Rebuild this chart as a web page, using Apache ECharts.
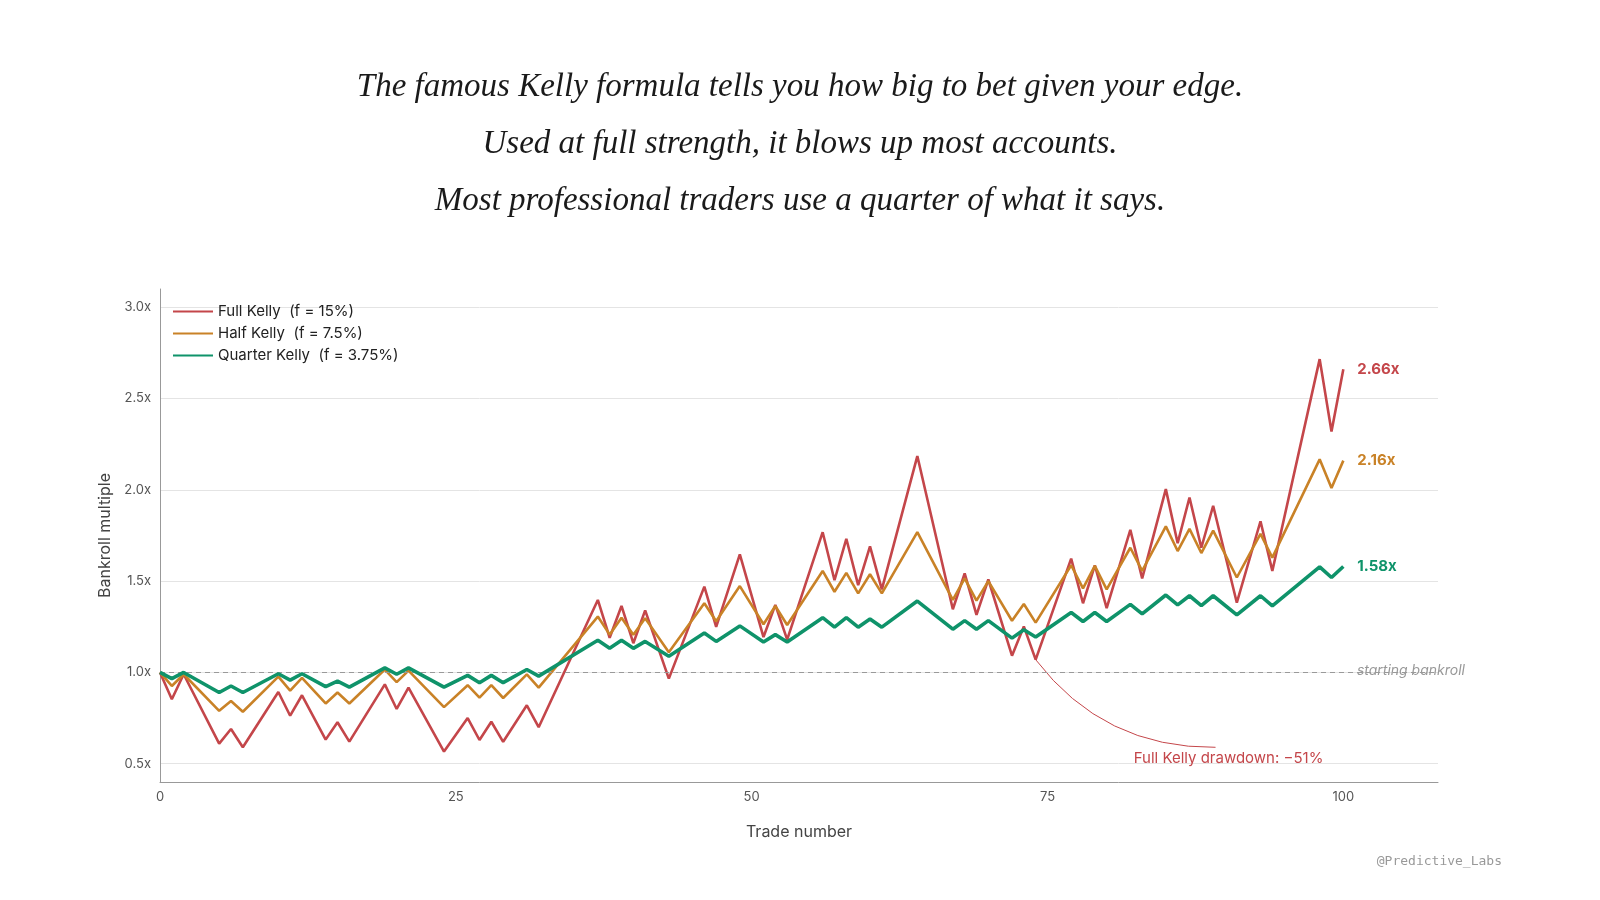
<!DOCTYPE html>
<html><head><meta charset="utf-8">
<script src="https://cdn.jsdelivr.net/npm/echarts@6/dist/echarts.min.js"></script>
<style>html,body{margin:0;padding:0;background:#fff}#c{width:1600px;height:900px}</style>
</head><body><div id="c"></div>
<script>
const trades = [0,1,2,5,6,7,10,11,12,14,15,16,19,20,21,24,26,27,28,29,31,32,37,38,39,40,41,43,46,47,49,51,52,53,56,57,58,59,60,61,64,67,68,69,70,72,73,74,77,78,79,80,82,83,85,86,87,88,89,91,93,94,98,99,100];
const fullKelly = [1.0,0.853,0.99,0.61,0.69,0.59,0.893,0.763,0.875,0.632,0.727,0.621,0.935,0.80,0.917,0.567,0.75,0.63,0.73,0.62,0.82,0.70,1.397,1.19,1.364,1.16,1.34,0.966,1.47,1.25,1.647,1.194,1.37,1.18,1.768,1.505,1.732,1.478,1.69,1.455,2.185,1.346,1.542,1.315,1.509,1.092,1.252,1.07,1.623,1.379,1.587,1.352,1.781,1.515,2.004,1.708,1.958,1.683,1.913,1.382,1.828,1.556,2.716,2.32,2.66];
const halfKelly = [1.0,0.926,0.99,0.79,0.844,0.785,0.977,0.90,0.97,0.83,0.89,0.83,1.016,0.947,1.01,0.81,0.93,0.862,0.93,0.86,0.989,0.917,1.306,1.207,1.30,1.207,1.297,1.11,1.379,1.28,1.473,1.264,1.364,1.26,1.556,1.442,1.545,1.433,1.538,1.433,1.768,1.397,1.515,1.393,1.50,1.283,1.375,1.273,1.587,1.46,1.584,1.455,1.683,1.556,1.80,1.665,1.786,1.654,1.777,1.52,1.759,1.629,2.167,2.01,2.16];
const quarterKelly = [1.0,0.966,1.0,0.89,0.926,0.89,0.993,0.958,0.993,0.922,0.953,0.92,1.025,0.99,1.025,0.92,0.984,0.944,0.984,0.944,1.016,0.98,1.176,1.132,1.176,1.132,1.17,1.089,1.216,1.17,1.255,1.167,1.207,1.167,1.30,1.248,1.30,1.248,1.293,1.248,1.391,1.237,1.284,1.237,1.284,1.188,1.234,1.194,1.328,1.279,1.328,1.279,1.373,1.321,1.424,1.37,1.42,1.366,1.42,1.315,1.42,1.364,1.578,1.52,1.58];
const seriesNames = ['Full Kelly  (f = 15%)','Half Kelly  (f = 7.5%)','Quarter Kelly  (f = 3.75%)'];
const endLabels = ['2.66x','2.16x','1.58x'];
const xTicks = [0,25,50,75,100];
const yTicks = [0.5,1.0,1.5,2.0,2.5,3.0];
const drawdownFrom = [74,1.07], drawdownTo = [89.2,0.59];
const drawdownText = 'Full Kelly drawdown: −51%';

const colors = ['#c4464a','#c98227','#0f936a'];
const widths = [2.6,2.6,3.6];
const vals = [fullKelly, halfKelly, quarterKelly];
const chart = echarts.init(document.getElementById('c'));
const font = 'Inter, "Noto Sans", sans-serif';
const series = vals.map((v,i)=>({
  name: seriesNames[i], type:'line', data: trades.map((t,k)=>[t,v[k]]),
  showSymbol:false, symbol:'none', z: 3+i,
  lineStyle:{color:colors[i],width:widths[i]}, itemStyle:{color:colors[i]},
  endLabel:{show:true,formatter:endLabels[i],color:colors[i],fontWeight:'bold',fontSize:15,fontFamily:font,distance:14},
  emphasis:{disabled:true}
}));
series[0].markLine = {silent:true,symbol:'none',data:[{yAxis:1.0}],lineStyle:{color:'#9a9a9a',type:[5,4],width:1},label:{show:false}};
series.push({type:'lines',coordinateSystem:'cartesian2d',silent:true,z:2,
  data:[{coords:[drawdownFrom,drawdownTo]}],
  lineStyle:{color:colors[0],width:1,curveness:-0.25,opacity:1}});
chart.setOption({
  animation:false,
  title:{text:'The famous Kelly formula tells you how big to bet given your edge.\nUsed at full strength, it blows up most accounts.\nMost professional traders use a quarter of what it says.',
    left:'center',top:54,textStyle:{fontFamily:'"Liberation Serif", serif',fontStyle:'italic',fontWeight:'normal',fontSize:33,lineHeight:57,color:'#1a1a1a'}},
  legend:{left:168,top:299,orient:'vertical',itemGap:7,itemWidth:40,itemHeight:14,
    textStyle:{fontFamily:font,fontSize:15,color:'#222'},data:seriesNames,icon:'path://M0,6L40,6L40,8L0,8Z'},
  grid:{left:160,right:162,top:289,bottom:118,containLabel:false},
  xAxis:{type:'value',min:0,max:108,name:'Trade number',nameLocation:'middle',nameGap:42,
    nameTextStyle:{fontFamily:font,fontSize:16,color:'#444'},
    axisLine:{lineStyle:{color:'#999'}},axisTick:{show:false},splitLine:{show:false},
    axisLabel:{customValues:xTicks,fontFamily:font,fontSize:13,color:'#555',margin:9}},
  yAxis:{type:'value',min:0.4,max:3.1,name:'Bankroll multiple',nameLocation:'middle',nameGap:46,
    nameTextStyle:{fontFamily:font,fontSize:16,color:'#444'},
    axisLine:{show:true,lineStyle:{color:'#999'}},
    axisTick:{show:false,customValues:yTicks},
    splitLine:{show:true,lineStyle:{color:'#e4e4e4'}},
    axisLabel:{customValues:yTicks,formatter:v=>v.toFixed(1)+'x',fontFamily:font,fontSize:13,color:'#555',margin:9}},
  series
});
const p = chart.convertToPixel({gridIndex:0},[100.3,1.0]);
const q = chart.convertToPixel({gridIndex:0},[90.3,0.527]);
chart.setOption({graphic:[
  {type:'text',left:p[0]+10,top:p[1]-9,style:{text:'starting bankroll',fontFamily:font,fontStyle:'italic',fontSize:14,fill:'#999'},z:1},
  {type:'text',x:q[0],y:q[1],style:{text:drawdownText,fontFamily:font,fontSize:15,fill:colors[0],align:'center',verticalAlign:'middle'}},
  {type:'text',right:98,top:855,style:{text:'@Predictive_Labs',fontFamily:'"DejaVu Sans Mono", monospace',fontSize:13,fill:'#999'}}
]});
</script></body></html>
